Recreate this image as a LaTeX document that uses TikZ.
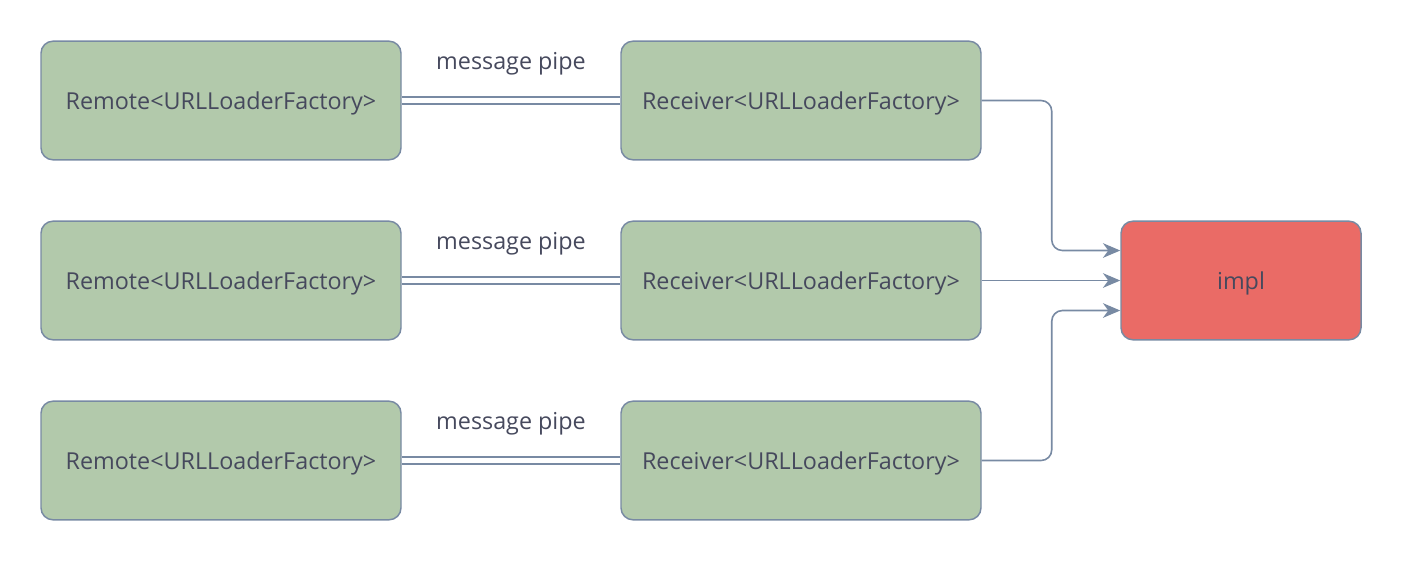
\documentclass[tikz,border=0pt]{standalone}
\usepackage{fontspec}
\setmainfont{Open Sans}
\usepackage{xcolor}
\usetikzlibrary{arrows.meta,positioning}

\definecolor{boxgreen}{HTML}{B2C9AB}
\definecolor{boxred}{HTML}{EA6B66}
\definecolor{edge}{HTML}{788AA3}
\definecolor{ink}{HTML}{46495D}

\begin{document}
\begin{tikzpicture}[
  x=0.75pt, y=-0.75pt,
  font=\fontsize{17.5}{20}\selectfont, text=ink,
  box/.style    ={draw=edge, line width=1.1pt, rounded corners=9pt,
                  minimum width=270pt, minimum height=89pt, fill=boxgreen,
                  text depth=0pt},
  implbox/.style={box, fill=boxred, minimum width=180pt},
  pipe/.style   ={draw=edge, line width=1.1pt, double=white, double distance=4.2pt},
  ar/.style     ={-{Stealth[length=13pt, width=11pt, inset=4pt]}, draw=edge,
                  line width=1.2pt, rounded corners=8pt}
]
\useasboundingbox (0,0) rectangle (1402,562);

\node[box] (rm1) at (221,100.5) {Remote<URLLoaderFactory>};
\node[box] (rm2) at (221,280.5) {Remote<URLLoaderFactory>};
\node[box] (rm3) at (221,460.5) {Remote<URLLoaderFactory>};

\node[box] (rc1) at (801,100.5) {Receiver<URLLoaderFactory>};
\node[box] (rc2) at (801,280.5) {Receiver<URLLoaderFactory>};
\node[box] (rc3) at (801,460.5) {Receiver<URLLoaderFactory>};

\node[implbox] (impl) at (1241,280.5) {impl};

% message pipes
\draw[pipe] (rm1.east) -- (rc1.west) node[midway, above=15pt] (lb1) {message pipe};
\draw[pipe] (rm2.east) -- (rc2.west) node[midway, above=15pt] (lb2) {message pipe};
\draw[pipe] (rm3.east) -- (rc3.west) node[midway, above=15pt] (lb3) {message pipe};

\draw[ar] (rc1.east) -- ++(70,0) |- ([yshift=22.5pt]impl.west);
\draw[ar] (rc2.east) -- (impl.west);
\draw[ar] (rc3.east) -- ++(70,0) |- ([yshift=-22.5pt]impl.west);

\end{tikzpicture}
\end{document}
